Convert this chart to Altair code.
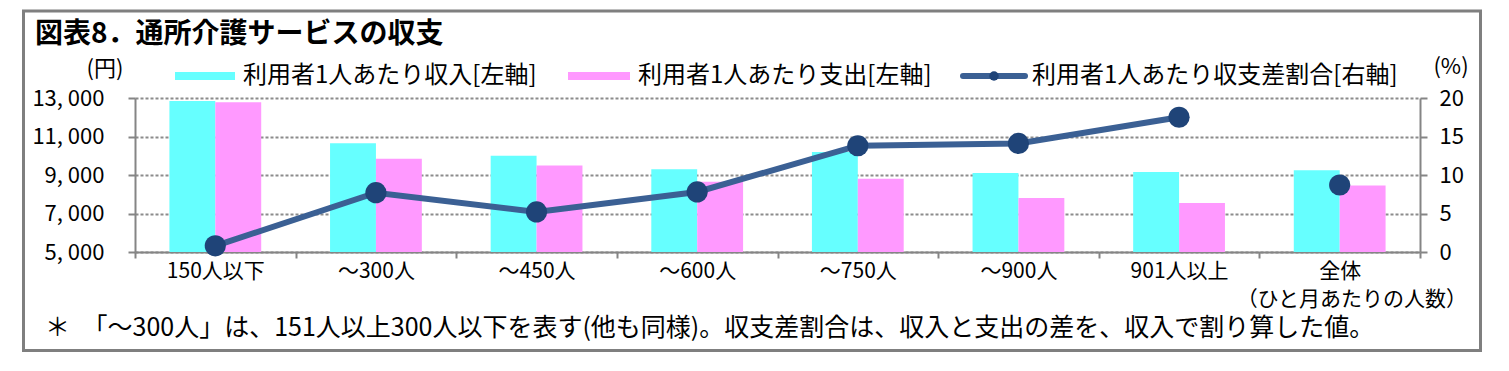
import altair as alt
import pandas as pd

categories = ["150人以下", "～300人", "～450人", "～600人", "～750人", "～900人", "901人以上", "全体"]
income = [12850, 10650, 10000, 9300, 10200, 9100, 9150, 9250]
expense = [12780, 9850, 9500, 8650, 8800, 7800, 7550, 8450]
ratio = [0.8, 7.7, 5.2, 7.8, 13.8, 14.1, 17.5, 8.7]
line_group = ["by_size"] * 7 + ["total"]
series_names = ["利用者1人あたり収入[左軸]", "利用者1人あたり支出[左軸]", "利用者1人あたり収支差割合[右軸]"]
left_ticks = [5000, 7000, 9000, 11000, 13000]
right_ticks = [0, 5, 10, 15, 20]

title_text = "図表8．通所介護サービスの収支"
left_unit = "(円)"
right_unit = "(%)"
x_unit = "（ひと月あたりの人数）"
footnote = "＊　「～300人」は、151人以上300人以下を表す(他も同様)。収支差割合は、収入と支出の差を、収入で割り算した値。"

FONT = "Noto Sans CJK JP"
CYAN = "#66FFFF"
PINK = "#FF99FF"
LINE = "#3B6094"
DOT = "#1F4478"
GRAY = "#858585"

rows = []
for c, a, b in zip(categories, income, expense):
    rows.append({"cat": c, "series": series_names[0], "value": a})
    rows.append({"cat": c, "series": series_names[1], "value": b})
bars_df = pd.DataFrame(rows)
line_df = pd.DataFrame({"cat": categories, "ratio": ratio, "grp": line_group})
one = pd.DataFrame({"k": [0]})

W, H = 1285, 154

xscale = alt.Scale(domain=categories, paddingInner=0, paddingOuter=0)
xaxis = alt.Axis(title=None, labelAngle=0, labelFont=FONT, labelFontSize=21, labelColor="#000",
                 tickBand="extent", tickColor=GRAY, tickWidth=2, tickSize=6,
                 domainColor=GRAY, domainWidth=2, labelPadding=2, grid=False)

bars = alt.Chart(bars_df).mark_bar().encode(
    x=alt.X("cat:N", scale=xscale, axis=xaxis, sort=categories),
    xOffset=alt.XOffset("series:N", scale=alt.Scale(domain=series_names[:2], paddingOuter=0.75, paddingInner=0)),
    y=alt.Y("value:Q", scale=alt.Scale(domain=[5000, 13000], zero=False, nice=False),
            axis=alt.Axis(title=None, orient="left", values=left_ticks,
                          labelExpr="replace(format(datum.value, ',.0f'), ',', ', ')",
                          labelFont=FONT, labelFontSize=22, labelColor="#000", labelPadding=24,
                          tickSize=7, tickColor=GRAY, tickWidth=2,
                          domainColor=GRAY, domainWidth=2,
                          grid=True, gridColor="#8c8c8c", gridDash=[3, 2], gridWidth=2)),
    y2=alt.datum(5000),
    color=alt.Color("series:N", scale=alt.Scale(domain=series_names[:2], range=[CYAN, PINK]), legend=None),
)

line_base = alt.Chart(line_df).encode(
    x=alt.X("cat:N", scale=xscale, sort=categories, axis=xaxis),
    y=alt.Y("ratio:Q", scale=alt.Scale(domain=[0, 20], nice=False),
            axis=alt.Axis(title=None, orient="right", values=right_ticks,
                          labelFont=FONT, labelFontSize=22, labelColor="#000", labelPadding=12,
                          tickSize=7, tickColor=GRAY, tickWidth=2,
                          domainColor=GRAY, domainWidth=2, grid=False)),
)
line = line_base.mark_line(color=LINE, strokeWidth=6).encode(detail="grp:N")
points = line_base.mark_point(filled=True, color=DOT, size=450, opacity=1)
line_layer = alt.layer(line, points)


def txt(s, x, y, size=21, align="left", weight="normal", baseline="middle"):
    return alt.Chart(one).mark_text(font=FONT, fontSize=size, align=align, baseline=baseline,
                                    fontWeight=weight, color="#000").encode(
        x=alt.value(x), y=alt.value(y), text=alt.value(s))


def box(x1, x2, y1, y2, color):
    return alt.Chart(one).mark_rect(color=color).encode(
        x=alt.value(x1), x2=alt.value(x2), y=alt.value(y1), y2=alt.value(y2))


frame = alt.Chart(one).mark_rect(fill=None, stroke="#7f7f7f", strokeWidth=3).encode(
    x=alt.value(-111.5), x2=alt.value(1345.5), y=alt.value(-87), y2=alt.value(252.5))

leg_y = -22
legend_layers = [
    box(40, 100, leg_y - 4, leg_y + 4, CYAN),
    txt(series_names[0], 108, leg_y, 24),
    box(433, 495, leg_y - 4, leg_y + 4, PINK),
    txt(series_names[1], 503, leg_y, 24),
    alt.Chart(one).mark_rule(color=LINE, strokeWidth=6, strokeCap="round").encode(
        x=alt.value(828), x2=alt.value(890), y=alt.value(leg_y)),
    alt.Chart(one).mark_point(filled=True, color=DOT, size=90, opacity=1).encode(
        x=alt.value(859), y=alt.value(leg_y)),
    txt(series_names[2], 897, leg_y, 24),
]

texts = [
    txt(title_text, -100, -63, 28, weight="bold"),
    txt(left_unit, -30, -29, 22, align="center"),
    txt(right_unit, 1316, -31, 22, align="center"),
    txt(x_unit, 1332, 202, 21, align="right"),
    txt(footnote, -90, 230, 25),
]

chart = alt.layer(bars, line_layer, frame, *legend_layers, *texts).resolve_scale(
    y="independent"
).properties(
    width=W, height=H,
    autosize=alt.AutoSizeParams(type="none"),
    padding={"left": 127, "top": 90, "right": 70, "bottom": 105},
    background="white",
).configure_view(stroke=None)

chart.save("out.html", embed_options={"renderer": "svg", "actions": False})
